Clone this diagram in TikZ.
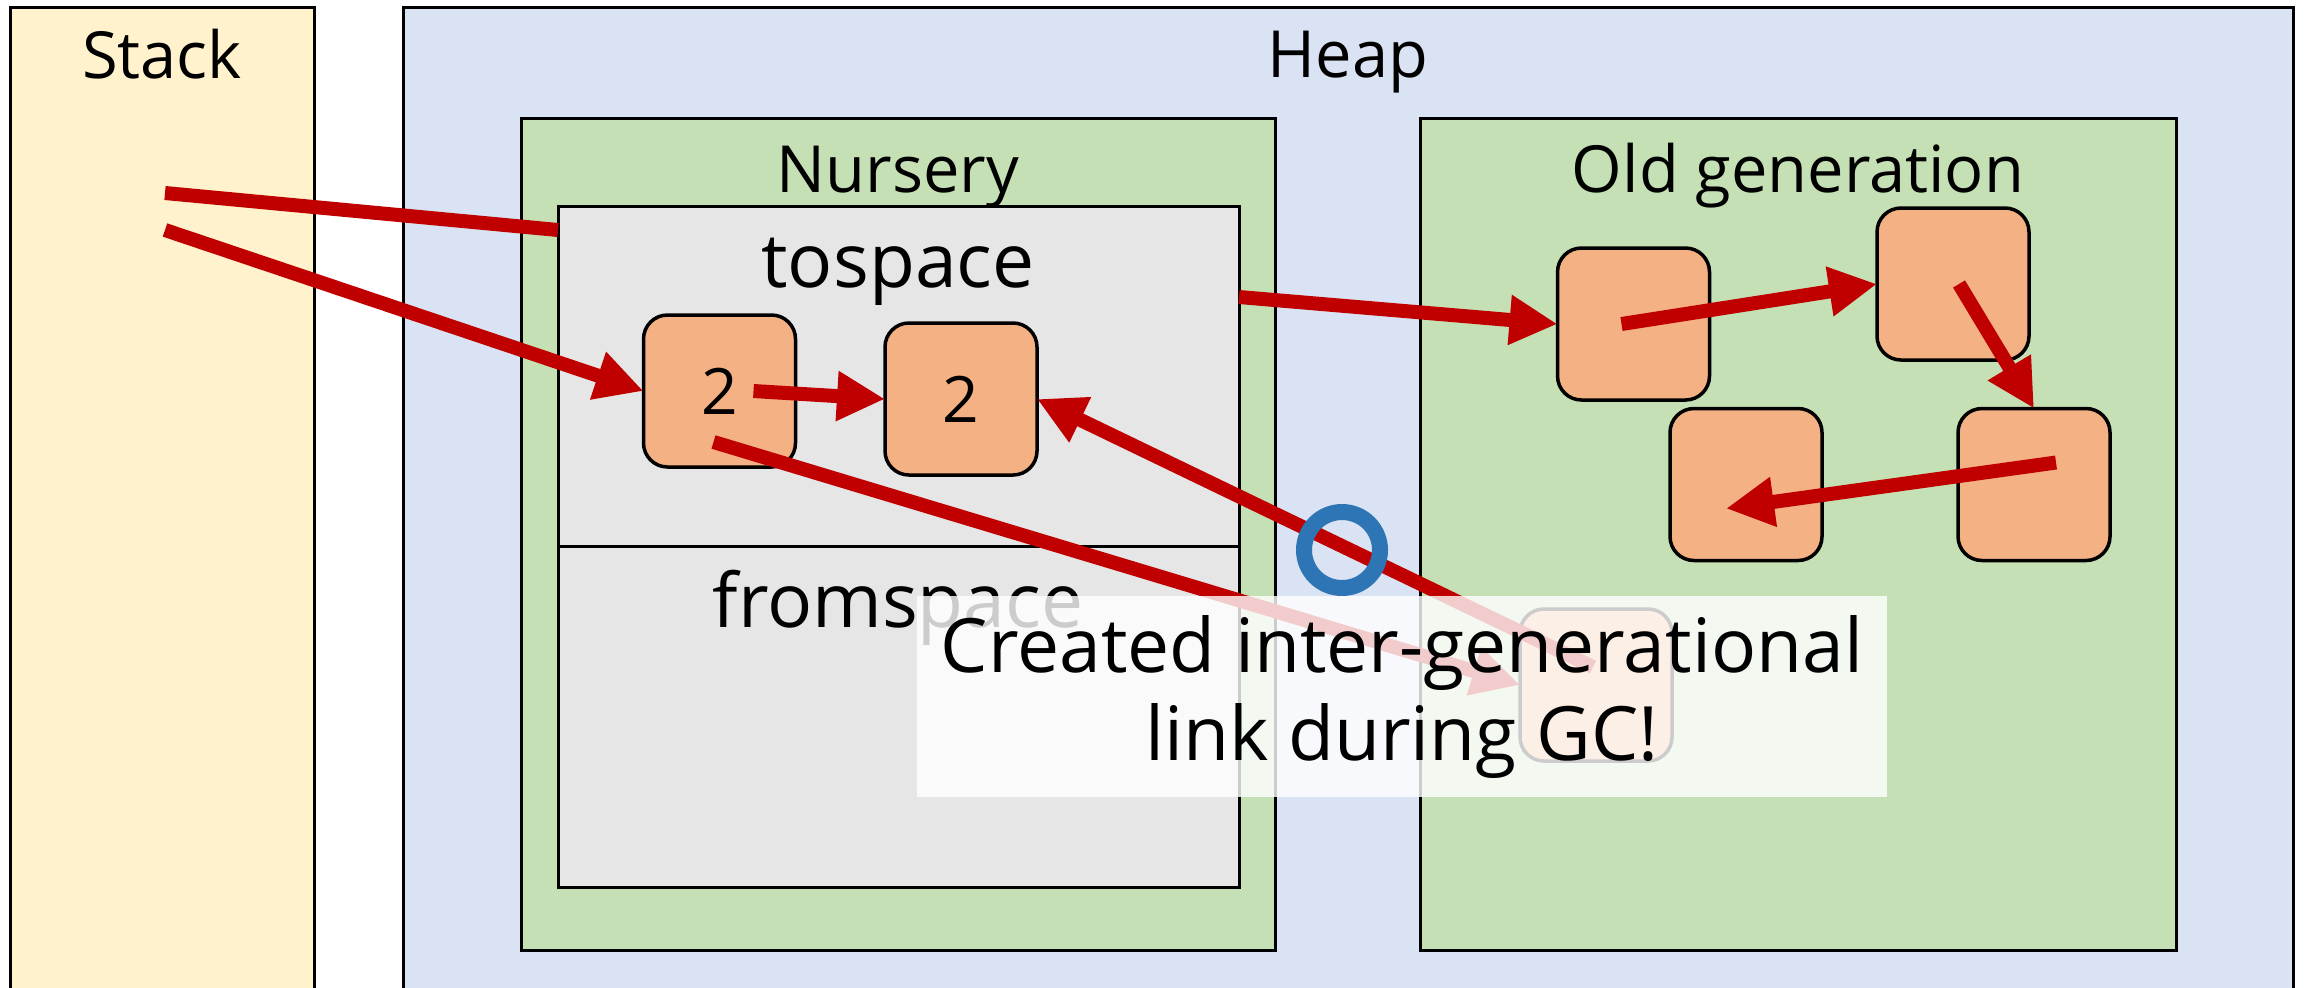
\documentclass[tikz,border=0pt]{standalone}
\usepackage{fontspec}
\setmainfont{Open Sans}
\usetikzlibrary{arrows.meta,calc}

\definecolor{stackfill}{HTML}{FFF2CC}
\definecolor{heapfill}{HTML}{DAE3F3}
\definecolor{genfill}{HTML}{C5E0B4}
\definecolor{spacefill}{HTML}{E6E6E6}
\definecolor{objfill}{HTML}{F4B183}
\definecolor{ptrred}{HTML}{C00000}
\definecolor{markblue}{HTML}{2E75B6}

\begin{document}
\begin{tikzpicture}[x=0.5pt,y=-0.5pt]

\tikzset{
  region/.style={
    draw,
    line width=1.5pt,
    fill=#1,
    inner sep=0pt,
    outer sep=0pt,
  },
  region label/.style={anchor=base, font=\fontsize{32.5}{39}\selectfont},
  space label/.style={anchor=base, font=\fontsize{37.5}{45}\selectfont},
  heap object/.style={
    draw,
    line width=1.75pt,
    fill=objfill,
    rounded corners=12pt,
    minimum width=76pt,
    minimum height=76pt,
    inner sep=0pt,
    outer sep=0pt,
    font=\fontsize{32}{38}\selectfont,
  },
  plain pointer/.style={draw=ptrred, line width=7pt},
  pointer/.style={plain pointer, -{Triangle[length=24pt,width=23.5pt]}},
}

\useasboundingbox (0,0) rectangle (2305,987);
\clip (0,0) rectangle (2305,987);

% Stack and heap (run off the bottom edge)
\node[region=stackfill, minimum width=152pt, minimum height=546.5pt] (stack) at (162,553.5) {};
\node[region=heapfill, minimum width=945pt, minimum height=546.5pt] (heap) at (1348,553.5) {};

% Generations
\node[region=genfill, minimum width=377pt, minimum height=416pt] (nursery) at (898,534) {};
\node[region=genfill, minimum width=378pt, minimum height=416pt] (oldgen) at (1798,534) {};

% Semispaces
\node[region=spacefill, minimum width=340.5pt, minimum height=170pt] (tospace) at (898.5,376) {};
\node[region=spacefill, minimum width=340.5pt, minimum height=170.5pt] (fromspace) at (898.5,716.5) {};

% Labels
\node[region label] (stacklbl) at (162,78) {Stack};
\node[region label] (heaplbl) at (1348,77) {Heap};
\node[region label] (nurserylbl) at (898,192) {Nursery};
\node[region label] (oldlbl) at (1798,192) {Old generation};
\node[space label] (tolbl) at (898,287) {tospace};
\node[space label] (fromlbl) at (898,627) {fromspace};

% Objects in tospace
\node[heap object] (objA) at (719.5,391) {2};
\node[heap object] (objB) at (961,399) {2};

% Objects in the old generation
\node[heap object] (objX) at (1596,685) {};
\node[heap object] (old1) at (1633.5,324) {};
\node[heap object] (old2) at (1953,284) {};
\node[heap object] (old3) at (1746,484.5) {};
\node[heap object] (old4) at (2034,484.5) {};

% Roots
\coordinate (root1) at (165,193);
\coordinate (root2) at (165,230);

% Pointers
\draw[plain pointer] (root1) -- ($(tospace.north west)+(0,24)$);
\draw[pointer] (root2) -- (objA.west);
\draw[pointer] ($(objA.center)+(34,0)$) -- (objB.west);
\draw[pointer] ($(objA.center)+(-6,51)$) -- (objX.west);
\draw[pointer] ($(objX.center)+(-3,-18)$) -- (objB.east);

\draw[pointer] ($(tospace.north east)+(0,91)$) -- (old1.west);
\draw[pointer] ($(old1.center)+(-12,0)$) -- (old2.west);
\draw[pointer] ($(old2.center)+(6,0)$) -- (old4.north);
\draw[pointer] ($(old4.center)+(22,-22)$) -- ($(old3.center)+(-20,24)$);

% Highlight
\node[circle, draw=markblue, line width=8pt, minimum size=38pt, inner sep=0pt] (mark) at (1342,550) {};

% Note on top
\node[fill=white, fill opacity=0.8, text opacity=1, minimum width=485pt, minimum height=100.5pt,
  inner sep=0pt, align=center, font=\fontsize{37.5}{44}\selectfont] (note) at (1402,696.5)
  {Created inter-generational\\link during GC!};

\end{tikzpicture}
\end{document}
